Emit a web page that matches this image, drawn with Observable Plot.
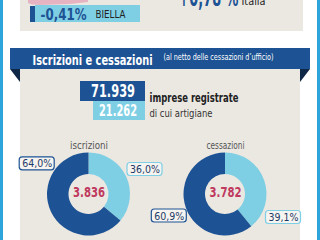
<!DOCTYPE html>
<html><head><meta charset="utf-8">
<script src="https://cdn.jsdelivr.net/npm/d3@7"></script>
<script src="https://cdn.jsdelivr.net/npm/@observablehq/plot@0.6"></script>
<style>html,body{margin:0;padding:0;background:#fff;overflow:hidden} svg{display:block}</style>
</head><body><div id="chart"></div>
<script>
// ---- data ----
const categories = ["iscrizioni", "cessazioni"];
const totals = ["3.836", "3.782"];
const artigianeShare = [36.0, 39.1];
const altreShare = [64.0, 60.9];
const impreseValues = ["71.939", "21.262"];
const impreseLabels = ["imprese registrate", "di cui artigiane"];
const variazioneValues = ["-0,41%", "+0,78 %"];
const variazioneAreas = ["BIELLA", "Italia"];
const title = "Iscrizioni e cessazioni";
const note = "(al netto delle cessazioni d\u2019ufficio)";

// ---- style / layout ----
const W = 320, H = 240;
const FONT = "'DejaVu Sans Condensed','Liberation Sans Narrow',sans-serif";
const C = {dark: "#1d5394", light: "#7fcfe4", beige: "#ebe8e2", crimson: "#c0395e",
  border: "#2ca5dc", fold: "#0e2747", pink: "#e6b3c3", text: "#222", gray: "#555", box: "#f6f4f0"};
const fmt = v => v.toFixed(1).replace(".", ",") + "%";
const centersX = [88.5, 225], centerY = 194, rIn = 20, rOut = 41.5;
const labelPos = [[[144.5, 169], [36.7, 163.3]], [[283, 217], [168.8, 215.5]]];

const panels = [
  {x1: 0, x2: 3, y1: 0, y2: H, fill: C.border},
  {x1: 317, x2: W, y1: 0, y2: H, fill: C.border},
  {x1: 20, x2: 303, y1: 0, y2: 31, fill: C.beige},
  {x1: 20, x2: 300, y1: 68, y2: H, fill: C.beige},
  {x1: 10, x2: 310, y1: 48, y2: 69, fill: C.dark},
  {x1: 35, x2: 140, y1: 5, y2: 22, fill: C.light},
  {x1: 30, x2: 35, y1: 6, y2: 22, fill: C.dark},
  {x1: 80, x2: 145, y1: 81, y2: 101, fill: C.dark},
  {x1: 93, x2: 145, y1: 101, y2: 120, fill: C.light}
];

function decor(index, scales) {
  const sx = scales.x, sy = scales.y;
  const g = d3.create("svg:g");
  const line = d3.line().x(d => sx(d[0])).y(d => sy(d[1]));
  g.append("path").attr("d", line([[10, 69], [20, 69], [20, 82]]) + "Z").attr("fill", C.fold);
  g.append("path").attr("d", line([[300, 69], [310, 69], [300, 82]]) + "Z").attr("fill", C.fold);
  g.append("path").attr("d", line([[28, 0], [88, 0], [88, 2], [70, 4], [40, 5], [32, 4.5], [28, 3]]) + "Z").attr("fill", C.pink);
  return g.node();
}

function donuts(index, scales) {
  const sx = scales.x, sy = scales.y;
  const g = d3.create("svg:g");
  const arc = d3.arc().innerRadius(rIn).outerRadius(rOut);
  categories.forEach((c, i) => {
    const pie = d3.pie().sort(null)([artigianeShare[i], altreShare[i]]);
    g.append("g").attr("transform", `translate(${sx(centersX[i])},${sy(centerY)})`)
      .selectAll("path").data(pie).join("path")
      .attr("d", arc).attr("fill", (d, j) => j ? C.dark : C.light);
  });
  return g.node();
}

const pctLabels = [];
categories.forEach((c, i) => {
  [artigianeShare[i], altreShare[i]].forEach((v, j) => {
    const [x, y] = labelPos[i][j];
    pctLabels.push({x, y, text: fmt(v), stroke: j ? C.dark : C.light});
  });
});

const chart = Plot.plot({
  width: W, height: H, margin: 0,
  x: {domain: [0, W], range: [0, W], axis: null},
  y: {domain: [0, H], range: [0, H], axis: null},
  style: {fontFamily: FONT, background: "#fff"},
  marks: [
    Plot.rect(panels, {x1: "x1", x2: "x2", y1: "y1", y2: "y2", fill: "fill"}),
    decor,
    // top section
    Plot.text([variazioneValues[0]], {x: 40, y: 14, text: d => d, textAnchor: "start", fontSize: 16, fontWeight: "bold", fill: C.dark}),
    Plot.text([variazioneAreas[0]], {x: 95, y: 14.5, text: d => d, textAnchor: "start", fontSize: 10, fill: C.text}),
    Plot.text([variazioneValues[1]], {x: 178, y: -1.8, text: d => d, textAnchor: "start", fontSize: 24, fontWeight: "bold", fill: C.dark}),
    Plot.text([variazioneAreas[1]], {x: 241, y: 0.8, text: d => d, textAnchor: "start", fontSize: 10, fill: C.text}),
    // header
    Plot.text([title], {x: 32, y: 60, text: d => d, textAnchor: "start", fontSize: 14.5, fontWeight: "bold", fill: "#fff"}),
    Plot.text([note], {x: 163, y: 57, text: d => d, textAnchor: "start", fontSize: 8, fill: "#fff"}),
    // totals
    Plot.text([impreseValues[0]], {x: 112.5, y: 91, text: d => d, fontSize: 18.5, fontWeight: "bold", fill: "#fff"}),
    Plot.text([impreseValues[1]], {x: 117.5, y: 110, text: d => d, fontSize: 16, fontWeight: "bold", fill: "#fff"}),
    Plot.text([impreseLabels[0]], {x: 149, y: 97.5, text: d => d, textAnchor: "start", fontSize: 11.5, fontWeight: "bold", fill: C.text}),
    Plot.text([impreseLabels[1]], {x: 149, y: 113, text: d => d, textAnchor: "start", fontSize: 10.5, fill: "#333"}),
    // donuts
    donuts,
    Plot.text(categories, {x: centersX, y: 145, text: d => d, fontSize: 10.5, fill: C.gray}),
    Plot.text(totals, {x: centersX, y: 192.5, text: d => d, fontSize: 14, fontWeight: "bold", fill: C.crimson}),
    Plot.rect(pctLabels, {x1: d => d.x - 17.5, x2: d => d.x + 17.5, y1: d => d.y - 6.5, y2: d => d.y + 6.5, fill: C.box, stroke: "stroke", strokeWidth: 1.2, rx: 3}),
    Plot.text(pctLabels, {x: "x", y: "y", text: "text", fontSize: 11, fill: "#1d3a66"})
  ]
});

// fit texts to the widths measured on the reference
const widths = new Map([
  [variazioneValues[0], 46], [variazioneValues[1], 60], [variazioneAreas[0], 30], [variazioneAreas[1], 24],
  [title, 120], [note, 110], [impreseValues[0], 44], [impreseValues[1], 38],
  [impreseLabels[0], 89], [impreseLabels[1], 63], [categories[0], 38], [categories[1], 38],
  [totals[0], 32], [totals[1], 32]
]);
pctLabels.forEach(d => widths.set(d.text, 30));
chart.querySelectorAll("text").forEach(t => {
  const w = widths.get(t.textContent);
  if (w) { t.setAttribute("textLength", w); t.setAttribute("lengthAdjust", "spacingAndGlyphs"); }
});
document.getElementById("chart").append(chart);
</script>
</body></html>
